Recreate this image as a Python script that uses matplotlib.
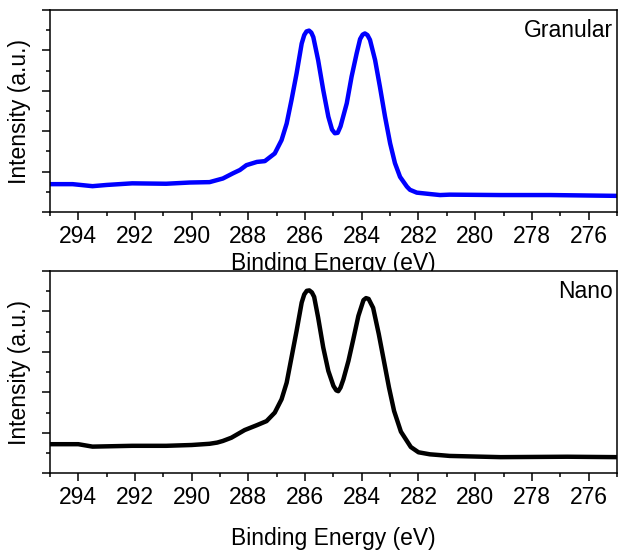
import matplotlib.pyplot as plt
from matplotlib.ticker import MultipleLocator, NullFormatter

plt.rcParams['font.family'] = ['Liberation Sans', 'DejaVu Sans']

# binding energy (eV) and intensity (a.u.)
granular_e = [295.0, 294.2, 293.5, 293.0, 292.1, 290.9, 290.07, 289.37, 288.9, 288.54,
              288.3, 288.07, 287.7, 287.42, 287.07, 286.83, 286.65, 286.48, 286.3, 286.12,
              286.03, 285.95, 285.86, 285.78, 285.71, 285.54, 285.36, 285.18, 285.05, 284.95,
              284.85, 284.75, 284.53, 284.36, 284.18, 284.06, 283.97, 283.89, 283.8, 283.71,
              283.53, 283.36, 283.18, 283.0, 282.83, 282.65, 282.41, 282.3, 282.06, 281.59,
              281.24, 280.9, 279.1, 277.35, 275.0]
granular_i = [0.69, 0.69, 0.64, 0.67, 0.71, 0.70, 0.73, 0.74, 0.83, 0.96,
              1.04, 1.16, 1.24, 1.26, 1.45, 1.78, 2.19, 2.77, 3.43, 4.17,
              4.38, 4.47, 4.49, 4.44, 4.33, 3.76, 3.02, 2.36, 2.04, 1.95,
              1.96, 2.12, 2.69, 3.35, 3.93, 4.28, 4.39, 4.42, 4.38, 4.26,
              3.76, 3.10, 2.36, 1.70, 1.21, 0.87, 0.63, 0.55, 0.48, 0.445,
              0.42, 0.43, 0.42, 0.42, 0.40]

nano_e = [295.0, 294.0, 293.5, 292.1, 290.9, 290.0, 289.37, 289.1, 288.9, 288.6,
          288.13, 287.7, 287.36, 287.07, 286.83, 286.65, 286.48, 286.3, 286.12, 286.03,
          285.94, 285.85, 285.76, 285.68, 285.54, 285.36, 285.18, 285.0, 284.9, 284.83,
          284.75, 284.65, 284.47, 284.3, 284.12, 283.94, 283.85, 283.76, 283.6, 283.4,
          283.22, 283.04, 282.86, 282.62, 282.27, 282.0, 281.6, 281.24, 280.9, 279.1,
          276.75, 275.0]
nano_i = [0.72, 0.72, 0.66, 0.68, 0.68, 0.70, 0.73, 0.76, 0.80, 0.88,
          1.07, 1.19, 1.29, 1.50, 1.83, 2.24, 2.86, 3.52, 4.22, 4.42,
          4.51, 4.52, 4.47, 4.36, 3.85, 3.11, 2.53, 2.16, 2.05, 2.03,
          2.12, 2.32, 2.78, 3.31, 3.89, 4.28, 4.33, 4.31, 4.09, 3.44,
          2.78, 2.12, 1.54, 1.03, 0.65, 0.52, 0.47, 0.45, 0.43, 0.40,
          0.41, 0.40]

fig = plt.figure(figsize=(6.2, 5.5), dpi=100)
ax1 = fig.add_axes([0.0806, 0.6145, 0.9144, 0.3673])
ax2 = fig.add_axes([0.0806, 0.1394, 0.9144, 0.3679])

panels = [(ax1, granular_e, granular_i, '#0000ff', 'Granular', 3),
          (ax2, nano_e, nano_i, 'black', 'Nano', 13)]

fs = 16.5
for ax, e, i, col, name, pad in panels:
    ax.plot(e, i, color=col, lw=3.2, solid_capstyle='round', solid_joinstyle='round')
    ax.set_xlim(295, 275)
    ax.set_ylim(0, 5)
    ax.xaxis.set_major_locator(MultipleLocator(2))
    ax.xaxis.set_minor_locator(MultipleLocator(1))
    ax.yaxis.set_major_locator(MultipleLocator(1))
    ax.yaxis.set_minor_locator(MultipleLocator(0.5))
    ax.yaxis.set_major_formatter(NullFormatter())
    ax.tick_params(axis='both', which='major', direction='out', length=6, width=1.1,
                   labelsize=fs, pad=3, top=False, right=False)
    ax.tick_params(axis='both', which='minor', direction='out', length=3, width=1.1,
                   top=False, right=False)
    for s in ax.spines.values():
        s.set_linewidth(1.1)
    ax.set_xlabel('Binding Energy (eV)', fontsize=fs, labelpad=pad)
    ax.set_ylabel('Intensity (a.u.)', fontsize=fs, labelpad=5)
    ax.text(0.993, 0.955, name, transform=ax.transAxes, ha='right', va='top', fontsize=fs)

# bottom panel drawn over the top panel's label, as in the original layout
ax2.set_zorder(2)
ax2.patch.set_facecolor('white')

fig.savefig('out.png', dpi=100)
